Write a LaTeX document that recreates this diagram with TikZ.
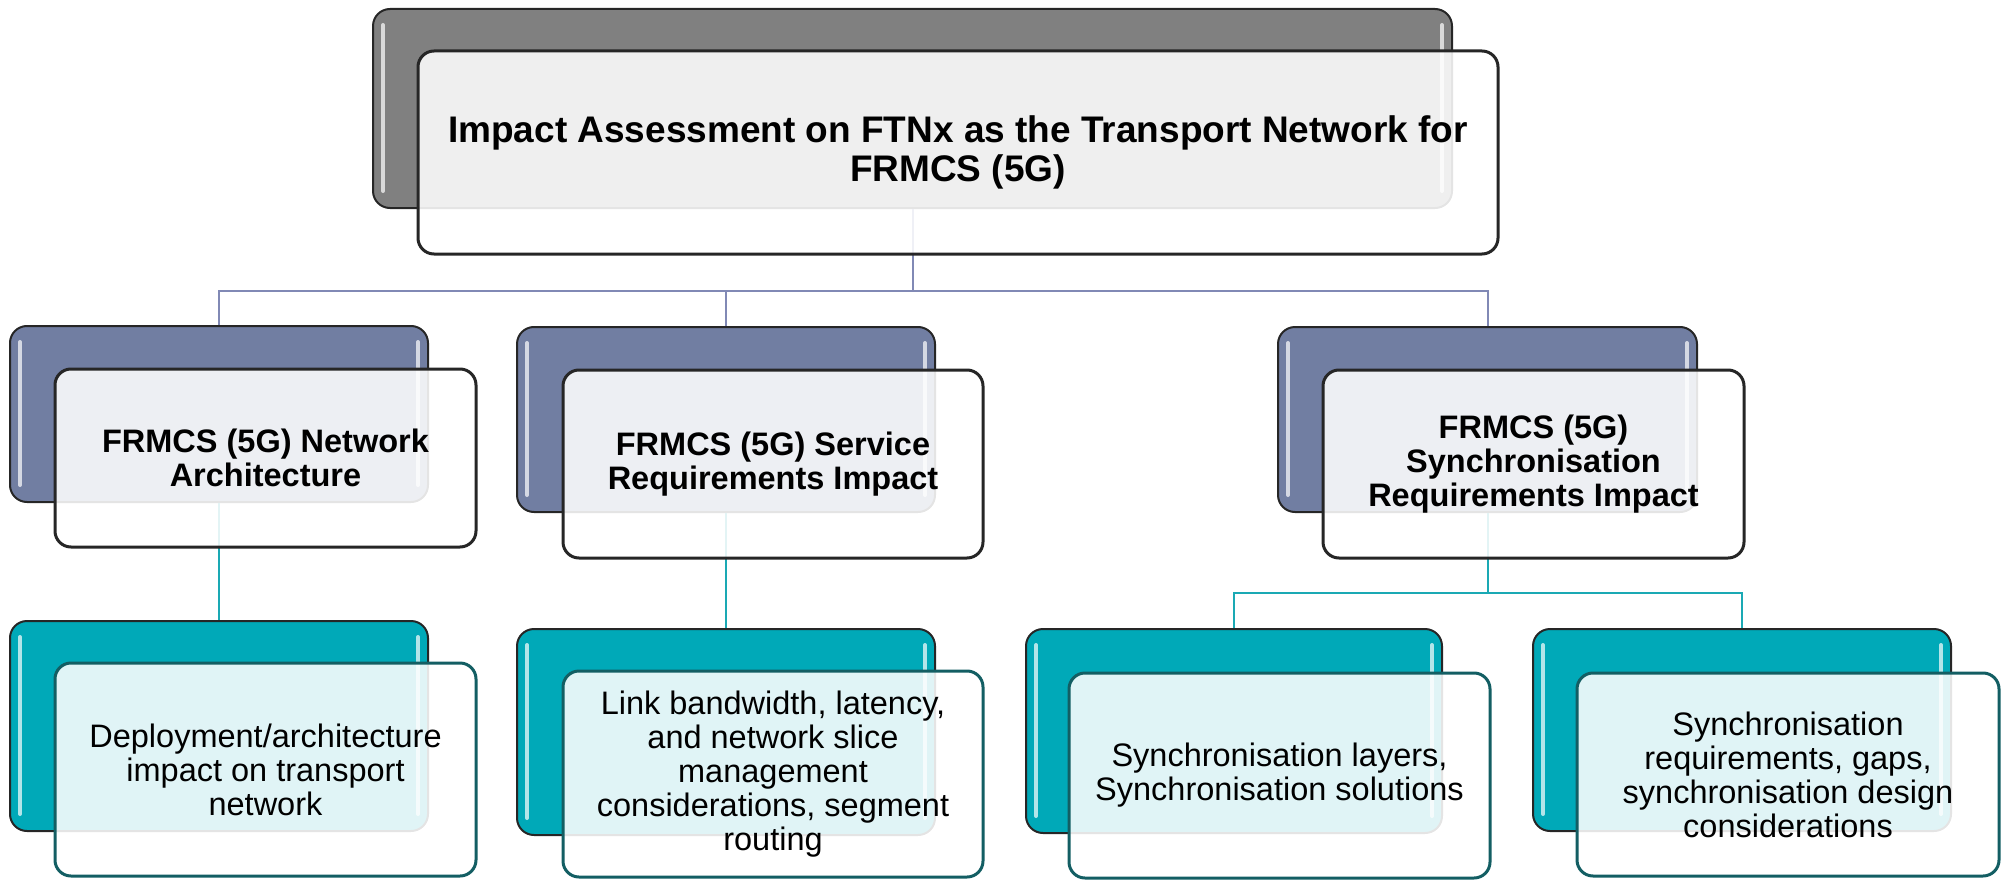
\documentclass[tikz,border=0pt]{standalone}
\usepackage{fontspec}
\setmainfont{Liberation Sans}
\definecolor{topgray}{HTML}{808080}
\definecolor{slate}{HTML}{717EA2}
\definecolor{tealfill}{HTML}{00A9B8}
\definecolor{linkslate}{HTML}{8189B5}
\definecolor{linkteal}{HTML}{1AA9B4}
\definecolor{edgedark}{HTML}{262626}
\definecolor{edgeteal}{HTML}{135E63}
\begin{document}
\begin{tikzpicture}[x=1pt,y=-1pt,
  backbox/.style={rectangle, rounded corners=17pt, draw=edgedark, line width=2pt, inner sep=0pt},
  frontbox/.style={rectangle, rounded corners=16pt, draw=edgedark, line width=3pt, fill=white,
    fill opacity=0.88, text opacity=1, inner sep=0pt, align=center, text=black},
  leaffront/.style={frontbox, draw=edgeteal},
  headtext/.style={font=\fontsize{37}{38.5}\selectfont\bfseries},
  midtext/.style={font=\fontsize{32.5}{34}\selectfont\bfseries},
  leaftext/.style={font=\fontsize{32.5}{34}\selectfont},
  gloss/.style={draw=white, line width=4pt, line cap=round, opacity=0.7},
  linkA/.style={draw=linkslate, line width=2pt},
  linkB/.style={draw=linkteal, line width=2pt}]
\useasboundingbox (0,0) rectangle (2002,880);

% back plates
\node[backbox, fill=topgray, minimum width=1079pt, minimum height=199pt] (topback) at (912.5,108.5) {};
\node[backbox, fill=slate, minimum width=418pt, minimum height=176pt] (netback) at (219,414) {};
\node[backbox, fill=slate, minimum width=418pt, minimum height=185pt] (srvback) at (726,419.5) {};
\node[backbox, fill=slate, minimum width=419pt, minimum height=185pt] (synback) at (1487.5,419.5) {};
\node[backbox, fill=tealfill, minimum width=418pt, minimum height=210pt] (depback) at (219,726) {};
\node[backbox, fill=tealfill, minimum width=418pt, minimum height=206pt] (lnkback) at (726,732) {};
\node[backbox, fill=tealfill, minimum width=416pt, minimum height=204pt] (layback) at (1234,731) {};
\node[backbox, fill=tealfill, minimum width=418pt, minimum height=202pt] (reqback) at (1742,730) {};

% glossy edge highlights on the back plates
\foreach \b in {topback,netback,srvback,synback,depback,lnkback,layback,reqback}{
  \draw[gloss] ([xshift=11pt,yshift=-17pt]\b.north west) -- ([xshift=11pt,yshift=18pt]\b.south west);
  \draw[gloss] ([xshift=-11pt,yshift=-17pt]\b.north east) -- ([xshift=-11pt,yshift=18pt]\b.south east);
}

% connectors
\coordinate (hubA) at (912.5,291);
\coordinate (hubB) at (1487.5,593);
\draw[linkA] (topback.south) -- (hubA);
\draw[linkA] (hubA) -| (netback.north);
\draw[linkA] (hubA) -| (srvback.north);
\draw[linkA] (hubA) -| (synback.north);
\draw[linkB] (netback.south) -- (depback.north);
\draw[linkB] (srvback.south) -- (lnkback.north);
\draw[linkB] (synback.south) -- (hubB);
\draw[linkB] (hubB) -| (layback.north);
\draw[linkB] (hubB) -| (reqback.north);

% front cards with text
\node[frontbox, headtext, minimum width=1080pt, minimum height=203pt] (topcard) at (958,152.5)
  {Impact Assessment on FTNx as the Transport Network for\\FRMCS (5G)};
\node[frontbox, midtext, minimum width=421pt, minimum height=178pt] (netcard) at (265.5,458)
  {FRMCS (5G) Network\\Architecture};
\node[frontbox, midtext, minimum width=420pt, minimum height=188pt] (srvcard) at (773,464)
  {FRMCS (5G) Service\\Requirements Impact};
\node[frontbox, midtext, minimum width=421pt, minimum height=188pt] (syncard) at (1533.5,464)
  {FRMCS (5G)\\Synchronisation\\Requirements Impact};
\node[leaffront, leaftext, minimum width=421pt, minimum height=213pt] (depcard) at (265.5,769.5)
  {Deployment/architecture\\impact on transport\\network};
\node[leaffront, leaftext, minimum width=420pt, minimum height=206pt] (lnkcard) at (773,774)
  {Link bandwidth, latency,\\and network slice\\management\\considerations, segment\\routing};
\node[leaffront, leaftext, minimum width=421pt, minimum height=205pt] (laycard) at (1279.5,775.5)
  {Synchronisation layers,\\Synchronisation solutions};
\node[leaffront, leaftext, minimum width=422pt, minimum height=203pt] (reqcard) at (1788,774.5)
  {Synchronisation\\requirements, gaps,\\synchronisation design\\considerations};
\end{tikzpicture}
\end{document}
